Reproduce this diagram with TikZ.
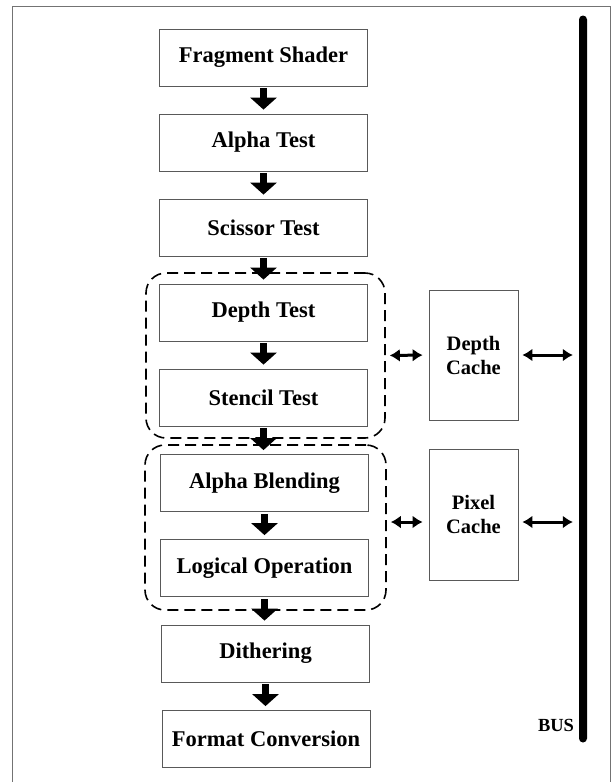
\documentclass[tikz,border=0pt]{standalone}
\usepackage{fontspec}
\setmainfont{Liberation Serif}
\usetikzlibrary{arrows.meta}
\tikzset{
  stage/.style={draw=black!65, line width=0.8pt, rectangle, minimum width=208pt, minimum height=57pt, inner sep=0pt,
    font=\fontsize{22.5}{27}\selectfont\bfseries},
  cachebox/.style={draw=black!65, line width=0.8pt, rectangle, minimum width=89pt, minimum height=130pt, inner sep=0pt,
    align=center, font=\fontsize{20.5}{24}\selectfont\bfseries},
  grp/.style={draw=black, line width=1.6pt, dash pattern=on 11pt off 6pt, rounded corners=20pt, rectangle, inner sep=0pt},
  flow/.style={line width=7pt, -{Triangle[length=12pt,width=26pt]}, shorten <=2pt, shorten >=4pt},
  dbl/.style={line width=3pt, {Latex[length=10pt,width=13pt]}-{Latex[length=10pt,width=13pt]}, shorten <=4pt, shorten >=6pt},
}
\begin{document}
\begin{tikzpicture}[x=1pt,y=1pt]
\useasboundingbox (0,0) rectangle (613,-782);
% outer frame
\draw[black!55, line width=0.9pt] (12,-782) -- (12,-6) -- (610,-6) -- (610,-782);
% groups
\node[grp, minimum width=239pt, minimum height=165pt] (g1) at (265.5,-355.5) {};
\node[grp, minimum width=241pt, minimum height=165pt] (g2) at (265.5,-527.5) {};
% stages
\node[stage] (fs) at (263.5,-57.5) {Fragment Shader};
\node[stage] (at) at (263.5,-142.5) {Alpha Test};
\node[stage] (sc) at (263.5,-227.5) {Scissor Test};
\node[stage, fill=white] (dt) at (263.5,-312.5) {Depth Test};
\node[stage, fill=white] (st) at (263.5,-397.5) {Stencil Test};
\node[stage, fill=white] (ab) at (264.5,-483) {Alpha Blending};
\node[stage, fill=white] (lo) at (264.5,-568) {Logical Operation};
\node[stage] (di) at (265.5,-653.5) {Dithering};
\node[stage] (fc) at (266,-739) {Format Conversion};
% caches
\node[cachebox] (dc) at (473.5,-355) {Depth\\Cache};
\node[cachebox, minimum height=131pt] (pc) at (473.5,-514.5) {Pixel\\Cache};
% bus
\node[fill=black, rounded corners=4pt, minimum width=8pt, minimum height=727pt, inner sep=0pt] (bus) at (583,-379) {};
\node[font=\fontsize{18.5}{22}\selectfont\bfseries] (buslbl) at (556,-725) {BUS};
% flow arrows
\draw[flow] (fs.south) -- (at.north);
\draw[flow] (at.south) -- (sc.north);
\draw[flow] (sc.south) -- (dt.north);
\draw[flow] (dt.south) -- (st.north);
\draw[flow] (st.south) -- (ab.north -| st.south);
\draw[flow] (ab.south) -- (lo.north);
\draw[flow] (lo.south) -- (di.north -| lo.south);
\draw[flow] (di.south) -- (fc.north -| di.south);
% double arrows
\coordinate (pa) at (0,-522);
\draw[dbl] (g1.east) -- (dc.west);
\draw[dbl] (dc.east) -- (bus.west |- dc.east);
\draw[dbl] (g2.east |- pa) -- (pc.west |- pa);
\draw[dbl] (pc.east |- pa) -- (bus.west |- pa);
\end{tikzpicture}
\end{document}
